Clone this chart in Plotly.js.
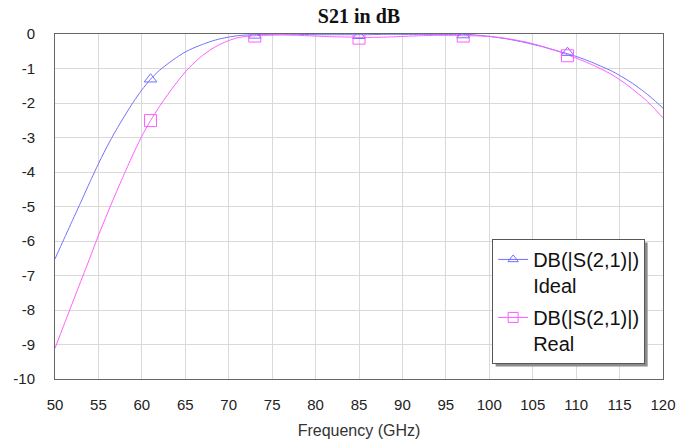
<!DOCTYPE html>
<html>
<head>
<meta charset="utf-8">
<script src="https://cdn.plot.ly/plotly-3.0.1.min.js"></script>
<style>
html,body{margin:0;padding:0;background:#fff;}
#chart{width:679px;height:444px;}
</style>
</head>
<body>
<div id="chart"></div>
<script>
// Frequency points (GHz)
var freq = [50,51,52,53,54,55,56,57,58,59,60,61,62,63,64,65,66,67,68,69,70,71,72,73,74,76,78,80,82,84,85,86,88,90,92,94,96,97,98,100,102,104,105,106,107,108,109,110,111,112,113,114,115,116,117,118,119,120];
// DB(|S(2,1)|) Ideal
var ideal = [-6.52,-5.96,-5.41,-4.86,-4.30,-3.76,-3.26,-2.80,-2.38,-1.98,-1.62,-1.31,-1.06,-0.86,-0.68,-0.52,-0.40,-0.30,-0.21,-0.14,-0.09,-0.05,-0.03,-0.02,-0.01,-0.005,-0.01,-0.02,-0.02,-0.02,-0.02,-0.02,-0.01,-0.01,-0.01,-0.01,-0.01,-0.01,-0.02,-0.07,-0.14,-0.24,-0.30,-0.36,-0.43,-0.50,-0.57,-0.65,-0.74,-0.84,-0.95,-1.06,-1.20,-1.35,-1.52,-1.71,-1.92,-2.15];
// DB(|S(2,1)|) Real
var real = [-9.11,-8.45,-7.80,-7.15,-6.50,-5.84,-5.22,-4.62,-4.04,-3.48,-2.96,-2.51,-2.11,-1.75,-1.41,-1.10,-0.84,-0.62,-0.44,-0.30,-0.19,-0.11,-0.07,-0.05,-0.04,-0.03,-0.04,-0.06,-0.08,-0.09,-0.10,-0.10,-0.09,-0.07,-0.05,-0.04,-0.04,-0.05,-0.05,-0.07,-0.13,-0.22,-0.28,-0.35,-0.43,-0.51,-0.60,-0.70,-0.80,-0.91,-1.03,-1.16,-1.32,-1.50,-1.70,-1.91,-2.16,-2.43];
// Marker points
var markerFreq = [61,73,85,97,109];
var idealMarkers = [-1.31,-0.04,-0.05,-0.03,-0.54];
var realMarkers = [-2.51,-0.06,-0.12,-0.06,-0.63];
// Tick labels
var xTicks = [50,55,60,65,70,75,80,85,90,95,100,105,110,115,120];
var yTicks = [0,-1,-2,-3,-4,-5,-6,-7,-8,-9,-10];
var legendNames = ['DB(|S(2,1)|)<br>Ideal','DB(|S(2,1)|)<br>Real'];

var blue = '#7070ff';
var pink = '#ff5cff';

var data = [
  {x: freq, y: ideal, mode: 'lines', line: {color: blue, width: 1, shape: 'spline', smoothing: 0.6}, showlegend: false, hoverinfo: 'skip'},
  {x: freq, y: real, mode: 'lines', line: {color: pink, width: 1, shape: 'spline', smoothing: 0.6}, showlegend: false, hoverinfo: 'skip'},
  {x: markerFreq, y: idealMarkers, mode: 'markers', marker: {symbol: 'triangle-up-open', size: 11, color: blue, line: {width: 1, color: blue}}, showlegend: false},
  {x: markerFreq, y: realMarkers, mode: 'markers', marker: {symbol: 'square-open', size: 12, color: pink, line: {width: 1, color: pink}}, showlegend: false},
  {x: [null], y: [null], name: legendNames[0], legendgroup: 'g1', mode: 'lines+markers', line: {color: blue, width: 1}, marker: {symbol: 'triangle-up-open', size: 9, color: blue}},
  {x: [null], y: [null], name: legendNames[1], legendgroup: 'g2', mode: 'lines+markers', line: {color: pink, width: 1}, marker: {symbol: 'square-open', size: 10, color: pink}}
];

var axisFont = {family: 'Arial, "Liberation Sans", sans-serif', size: 15, color: '#222'};

var layout = {
  width: 679, height: 444,
  margin: {l: 55, r: 16, t: 34, b: 65, pad: 0},
  paper_bgcolor: '#fff', plot_bgcolor: '#fff',
  title: {text: '<b>S21 in dB</b>', font: {family: '"Times New Roman", "Liberation Serif", serif', size: 20, color: '#111'}, x: 0.5287, xanchor: 'center', y: 0.963, yanchor: 'middle', yref: 'container'},
  xaxis: {
    range: [50, 120], tickvals: xTicks, ticktext: xTicks.map(String),
    showgrid: true, gridcolor: '#d9d9d9', gridwidth: 1,
    showline: true, linecolor: '#666', linewidth: 1, mirror: true,
    ticks: '', ticklabelstandoff: 12, tickfont: axisFont, zeroline: false,
    title: {text: 'Frequency (GHz)', font: {family: 'Arial, "Liberation Sans", sans-serif', size: 16, color: '#333'}, standoff: 12}
  },
  yaxis: {
    range: [-10, 0], tickvals: yTicks, ticktext: yTicks.map(String),
    showgrid: true, gridcolor: '#d9d9d9', gridwidth: 1,
    showline: true, linecolor: '#666', linewidth: 1, mirror: true,
    ticks: '', ticklabelstandoff: 16, tickfont: axisFont, zeroline: false
  },
  showlegend: true,
  legend: {
    x: 0.719, y: 0.406, xanchor: 'left', yanchor: 'top',
    bgcolor: '#fff', bordercolor: '#555', borderwidth: 1,
    font: {family: 'Arial, "Liberation Sans", sans-serif', size: 20, color: '#111'},
    valign: 'top', itemwidth: 30, tracegroupgap: 3
  }
};

Plotly.newPlot('chart', data, layout, {displayModeBar: false, staticPlot: true}).then(function (gd) {
  // drop shadow behind the legend box, sized from the rendered legend
  var bg = gd.querySelector('.legend .bg');
  if (!bg) return;
  var r = bg.getBoundingClientRect();
  var c = gd.getBoundingClientRect();
  var s = gd._fullLayout._size;
  var off = 3;
  var px2x = function (p) { return (p - s.l) / s.w; };
  var px2y = function (p) { return 1 - (p - s.t) / s.h; };
  var left = r.left - c.left, top = r.top - c.top, right = r.right - c.left, bottom = r.bottom - c.top;
  Plotly.relayout(gd, {shapes: [{
    type: 'rect', xref: 'paper', yref: 'paper',
    x0: px2x(left + off), x1: px2x(right + off),
    y0: px2y(bottom + off), y1: px2y(top + off),
    fillcolor: '#8c8c8c', line: {width: 0}, layer: 'above'
  }]});
});
</script>
</body>
</html>
